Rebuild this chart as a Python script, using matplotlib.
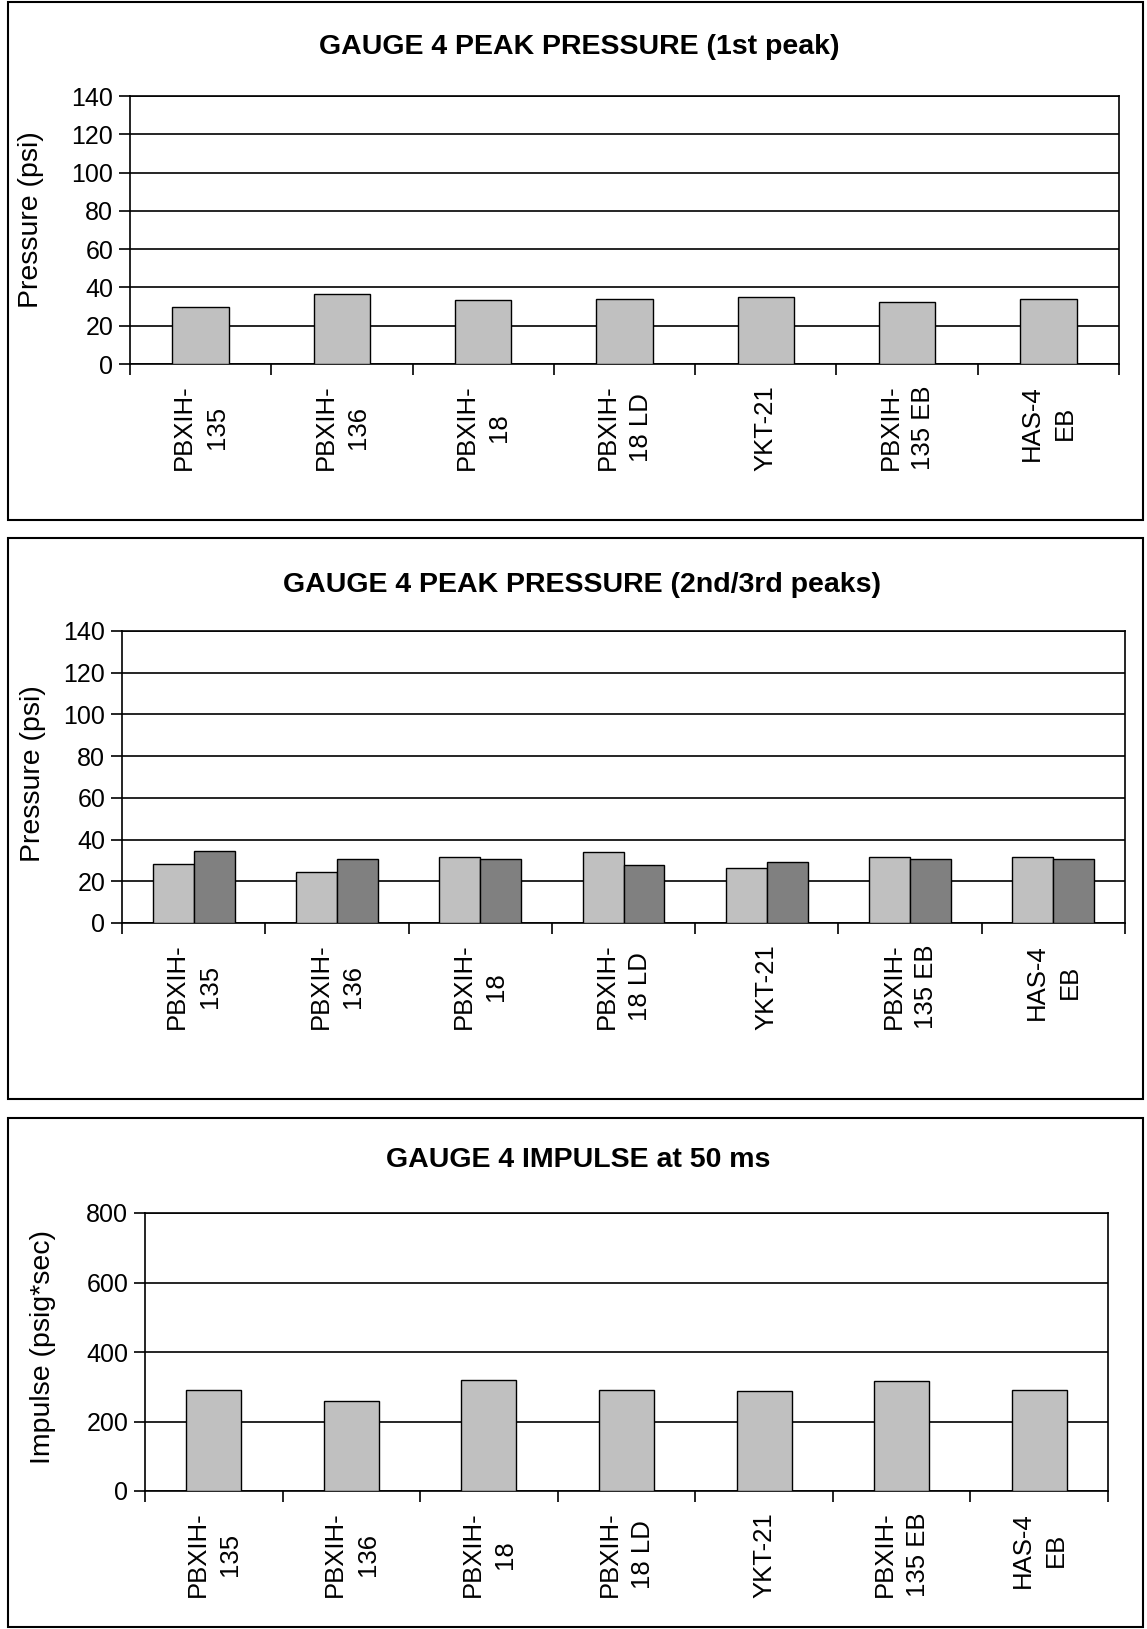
import matplotlib
matplotlib.use("Agg")
import matplotlib.pyplot as plt
import numpy as np
from matplotlib.patches import Rectangle

plt.rcParams['font.family'] = ['Liberation Sans', 'DejaVu Sans']

explosives = ["PBXIH-\n135", "PBXIH-\n136", "PBXIH-\n18", "PBXIH-\n18 LD",
              "YKT-21", "PBXIH-\n135 EB", "HAS-4\nEB"]
peak1 = [30.0, 36.8, 33.3, 34.2, 34.9, 32.6, 34.2]
peak2 = [28.4, 24.5, 31.6, 34.0, 26.3, 31.6, 31.6]
peak3 = [34.5, 30.6, 30.6, 27.7, 29.2, 30.6, 30.6]
impulse = [292, 258, 319, 292, 288, 316, 292]

W, H = 1147, 1629
fig = plt.figure(figsize=(W / 100, H / 100), dpi=100)


def px_axes(left, top, right, bottom):
    return fig.add_axes([left / W, 1 - bottom / H, (right - left) / W, (bottom - top) / H])


def panel_box(top, bottom):
    fig.patches.append(Rectangle((8 / W, 1 - bottom / H), (W - 12) / W, (bottom - top) / H,
                                 transform=fig.transFigure, fill=False,
                                 edgecolor='black', linewidth=1.5))


def style(ax, ymax, ystep):
    x = np.arange(len(explosives))
    ax.set_xlim(-0.5, len(explosives) - 0.5)
    ax.set_ylim(0, ymax)
    ax.set_yticks(np.arange(0, ymax + 1, ystep))
    ax.yaxis.grid(True, color='black', linewidth=1.2)
    ax.set_axisbelow(True)
    ax.set_xticks(np.arange(-0.5, len(explosives)), minor=False)
    ax.set_xticklabels([])
    ax.set_xticks(x, minor=True)
    ax.set_xticklabels(explosives, minor=True, rotation=90, ha='center', va='top',
                       multialignment='center', linespacing=1.45, fontsize=18.5)
    ax.tick_params(axis='x', which='minor', length=0, pad=15)
    ax.tick_params(axis='x', which='major', length=8, width=1.2, direction='out')
    ax.tick_params(axis='y', length=8, width=1.2, direction='out', labelsize=18, pad=4)
    for s in ax.spines.values():
        s.set_linewidth(1.2)
        s.set_color('black')


x = np.arange(len(explosives))

# panel 1
panel_box(2, 520)
ax1 = px_axes(130, 96, 1119, 364)
ax1.bar(x, peak1, width=0.4, color='#C0C0C0', edgecolor='black', linewidth=1, zorder=3)
style(ax1, 140, 20)
fig.text(0.505, 1 - 47 / H, "GAUGE 4 PEAK PRESSURE (1st peak)", ha='center', va='center',
         fontsize=20.5, fontweight='bold')
fig.text(31 / W, 1 - 220 / H, "Pressure (psi)", rotation=90, ha='center', va='center', fontsize=20.5)

# panel 2
panel_box(538, 1099)
ax2 = px_axes(122, 631, 1125, 923)
bw = 0.286
ax2.bar(x - bw / 2, peak2, width=bw, color='#C0C0C0', edgecolor='black', linewidth=1, zorder=3)
ax2.bar(x + bw / 2, peak3, width=bw, color='#808080', edgecolor='black', linewidth=1, zorder=3)
style(ax2, 140, 20)
fig.text(0.507, 1 - 585 / H, "GAUGE 4 PEAK PRESSURE (2nd/3rd peaks)", ha='center', va='center',
         fontsize=20.5, fontweight='bold')
fig.text(33 / W, 1 - 774 / H, "Pressure (psi)", rotation=90, ha='center', va='center', fontsize=20.5)

# panel 3
panel_box(1118, 1627)
ax3 = px_axes(145, 1213, 1108, 1491)
ax3.bar(x, impulse, width=0.4, color='#C0C0C0', edgecolor='black', linewidth=1, zorder=3)
style(ax3, 800, 200)
fig.text(0.504, 1 - 1160 / H, "GAUGE 4 IMPULSE at 50 ms", ha='center', va='center',
         fontsize=20.5, fontweight='bold')
fig.text(43 / W, 1 - 1347 / H, "Impulse (psig*sec)", rotation=90, ha='center', va='center', fontsize=20.5)

fig.savefig("out.png", dpi=100, facecolor='white')
